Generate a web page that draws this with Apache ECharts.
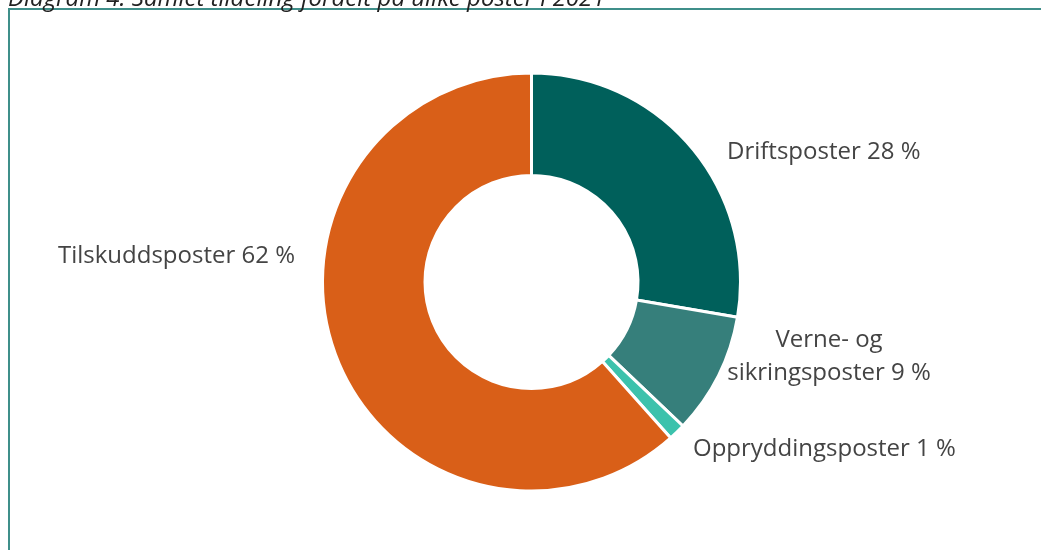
<!DOCTYPE html>
<html>
<head>
<meta charset="utf-8">
<title>Diagram 4</title>
<script src="https://cdn.jsdelivr.net/npm/echarts@6/dist/echarts.min.js"></script>
<style>
    html, body {
        margin: 0;
        padding: 0;
        background: #fff;
    }

    #chart {
        width: 1041px;
        height: 550px;
    }
</style>
</head>
<body>
<div id="chart"></div>
<script>
// data
const titleText = 'Diagram 4. Samlet tildeling fordelt på ulike poster i 2021'
const posts = ['Driftsposter', 'Verne- og\nsikringsposter', 'Oppryddingsposter', 'Tilskuddsposter']
const shares = [27.7, 9.4, 1.3, 61.6]
const colors = ['#00605b', '#367f7b', '#3cc2ac', '#d95f18']

// where each label sits (x, y, align)
const labelSpots = [
    [727, 152, 'left'],
    [829, 357, 'center'],
    [693, 449, 'left'],
    [295, 256, 'right']
]

const chart = echarts.init(document.getElementById('chart'))

const option = {
    animation: false,
    color: colors,
    graphic: [
        {
            type: 'rect',
            shape: { x: 9, y: 9, width: 1100, height: 600 },
            style: { fill: 'none', stroke: '#3f8f8a', lineWidth: 2 }
        },
        {
            type: 'text',
            x: 8,
            y: -1,
            style: {
                text: titleText,
                font: 'italic 24px "Open Sans"',
                fill: '#222',
                verticalAlign: 'middle'
            }
        }
    ],
    series: [
        {
            type: 'pie',
            center: [531.5, 282],
            radius: [106.5, 209],
            startAngle: 90,
            clockwise: true,
            avoidLabelOverlap: false,
            itemStyle: {
                borderColor: '#fff',
                borderWidth: 3
            },
            label: {
                show: true,
                position: 'outside',
                color: '#444',
                fontFamily: 'Open Sans',
                fontSize: 24,
                lineHeight: 33,
                formatter: (p) => p.name + ' ' + Math.round(p.value) + ' %'
            },
            labelLine: { show: false },
            labelLayout: (p) => {
                const s = labelSpots[p.dataIndex]
                return { x: s[0], y: s[1], align: s[2], verticalAlign: 'middle' }
            },
            emphasis: { disabled: true },
            data: posts.map((name, i) => ({ name: name, value: shares[i] }))
        }
    ]
}

chart.setOption(option)
</script>
</body>
</html>
